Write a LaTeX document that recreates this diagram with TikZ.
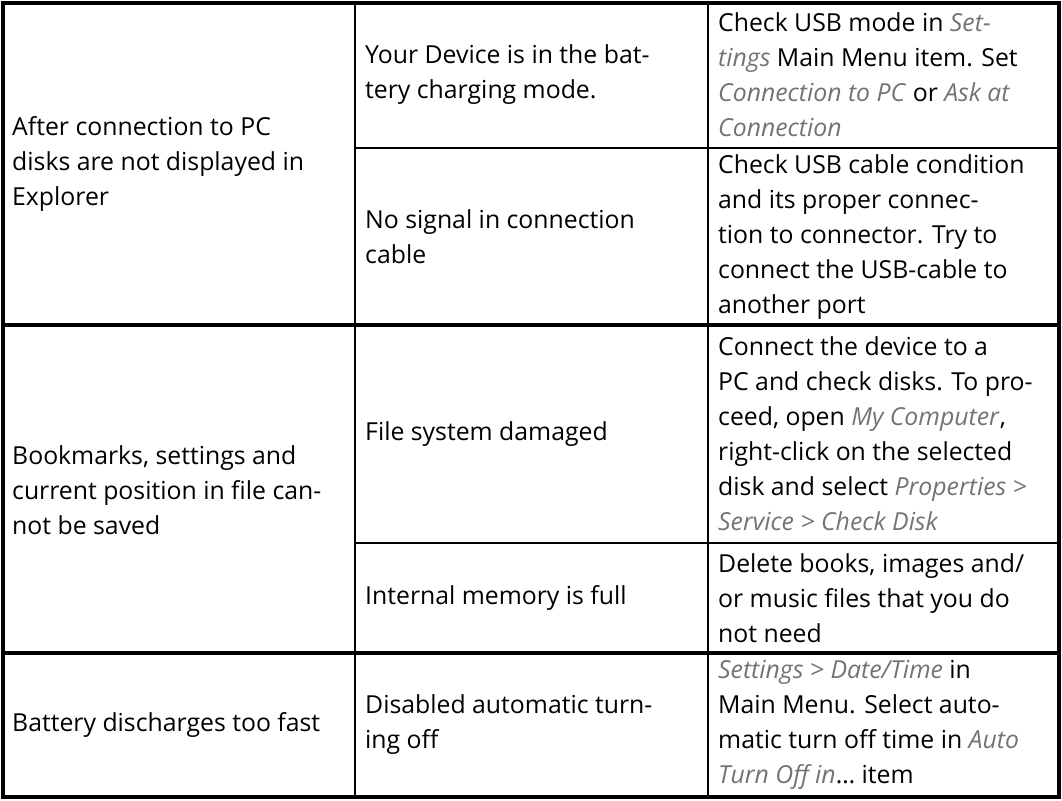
\documentclass[tikz,border=0pt]{standalone}
\usepackage{fontspec}
\setmainfont{Open Sans}
\usetikzlibrary{positioning}
\definecolor{hint}{gray}{0.45}
\newcommand{\gi}[1]{\textcolor{hint}{\textit{#1}}}
\tikzset{
  cell/.style={anchor=west, align=left, inner sep=0pt,
    font=\fontsize{24.8}{35}\selectfont},
  rule/.style={line width=2.2pt},
  frame/.style={line width=3.2pt}
}
\begin{document}
\begin{tikzpicture}[x=1pt, y=-1pt]
    \useasboundingbox (0,0) rectangle (1062,800);

    % table frame
    \draw[frame] (3,3) rectangle (1059,797);
    \draw[rule] (355,3) -- (355,797);
    \draw[rule] (708,3) -- (708,797);
    \draw[frame] (3,325) -- (1059,325);
    \draw[frame] (3,653) -- (1059,653);
    \draw[rule] (355,148) -- (1059,148);
    \draw[rule] (355,543) -- (1059,543);

    % problems
    \node[cell] (pc) at (12,164) {After connection to PC\\disks are not displayed in\\Explorer};
    \node[cell] (bm) at (12,490) {Bookmarks, settings and\\current position in file can-\\not be saved};
    \node[cell] (bat) at (12,725) {Battery discharges too fast};

    % causes
    \node[cell] (chg) at (365,75) {Your Device is in the bat-\\tery charging mode.};
    \node[cell] (sig) at (365,237) {No signal in connection\\cable};
    \node[cell] (fs) at (365,434) {File system damaged};
    \node[cell] (mem) at (365,598) {Internal memory is full};
    \node[cell] (off) at (365,725) {Disabled automatic turn-\\ing off};

    % solutions
    \node[cell] (usb) at (718,75) {Check USB mode in \gi{Set-}\\\gi{tings} Main Menu item. Set\\\gi{Connection to PC} or \gi{Ask at}\\\gi{Connection}};
    \node[cell] (cab) at (718,237) {Check USB cable condition\\and its proper connec-\\tion to connector. Try to\\connect the USB-cable to\\another port};
    \node[cell] (dsk) at (718,434) {Connect the device to a\\PC and check disks. To pro-\\ceed, open \gi{My Computer},\\right-click on the selected\\disk and select \gi{Properties >}\\\gi{Service > Check Disk}};
    \node[cell] (del) at (718,598) {Delete books, images and/\\or music files that you do\\not need};
    \node[cell] (tim) at (718,725) {\gi{Settings > Date/Time} in\\Main Menu. Select auto-\\matic turn off time in \gi{Auto}\\\gi{Turn Off in}\textellipsis{} item};
\end{tikzpicture}
\end{document}
